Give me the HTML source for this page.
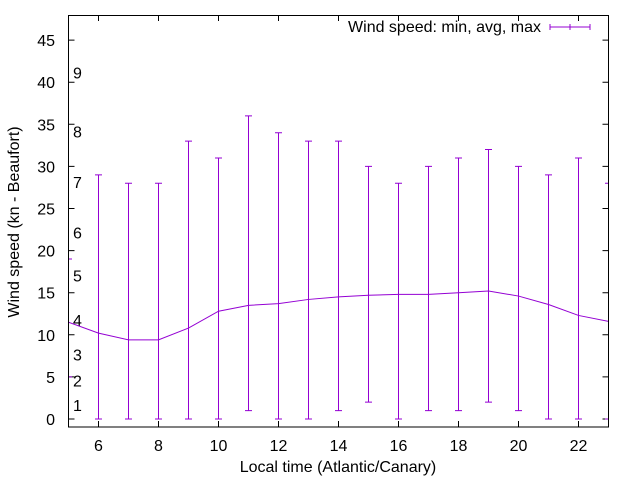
<!DOCTYPE html>
<html><head><meta charset="utf-8"><style>
body{margin:0;background:#fff}
svg{display:block;font-family:"Liberation Sans",sans-serif}
</style></head><body>
<svg width="640" height="480" viewBox="0 0 640 480">
<defs><clipPath id="pc"><rect x="68.5" y="15" width="540" height="412"/></clipPath></defs>
<g id="axes"></g>
<g id="marks" clip-path="url(#pc)"></g>
<rect x="68.5" y="15.5" width="540" height="411.5" fill="none" stroke="#000" stroke-width="1"/>
<text x="338" y="472" font-size="16" text-anchor="middle">Local time (Atlantic/Canary)</text>
<text transform="translate(19,222) rotate(-90)" font-size="16" text-anchor="middle">Wind speed (kn - Beaufort)</text>
<g>
<text x="541" y="32" font-size="16" text-anchor="end">Wind speed: min, avg, max</text>
<path d="M550 27H590M550 24V30M590 24V30M570 24V30" stroke="#9400d3" fill="none"/>
</g>
</svg>
<script>
const hours=[5,6,7,8,9,10,11,12,13,14,15,16,17,18,19,20,21,22,23];
const avgVals=[11.5,10.2,9.4,9.4,10.8,12.8,13.5,13.7,14.2,14.5,14.7,14.8,14.8,15.0,15.2,14.6,13.6,12.3,11.6];
const minVals=[5,0,0,0,0,0,1,0,0,1,2,0,1,1,2,1,0,0,0];
const maxVals=[19,29,28,28,33,31,36,34,33,33,30,28,30,31,32,30,29,31,28];
const xTicks=[6,8,10,12,14,16,18,20,22];
const yTicks=[0,5,10,15,20,25,30,35,40,45];
const beaufortLabels=["1","2","3","4","5","6","7","8","9"];
const beaufortPos=[1.3,4.2,7.3,11.4,16.7,21.8,27.8,33.8,40.8];
const X=v=>68.5+(v-5)*30;
const Y=v=>419-v*8.42;
const NS="http://www.w3.org/2000/svg";
const axes=document.getElementById('axes'),marks=document.getElementById('marks');
function mk(tag,attrs,parent,txt){const e=document.createElementNS(NS,tag);for(const k in attrs)e.setAttribute(k,attrs[k]);if(txt!==undefined)e.textContent=txt;parent.appendChild(e);return e;}
xTicks.forEach(t=>{
 const l=mk('path',{d:`M${X(t)} 427V421M${X(t)} 15V21`,stroke:'#000'},axes);
 
 
 const tx=mk('text',{x:X(t),y:451,'font-size':16,'text-anchor':'middle'},axes,String(t));
 
 
});
yTicks.forEach(t=>{
 const l=mk('path',{d:`M68.5 ${Y(t)}H74.5M608.5 ${Y(t)}H602.5`,stroke:'#000'},axes);
 
 
 const tx=mk('text',{x:55,y:Y(t)+6,'font-size':16,'text-anchor':'end'},axes,String(t));
 
 
});
beaufortLabels.forEach((b,i)=>{
 const tx=mk('text',{x:73,y:Y(beaufortPos[i])+3,'font-size':16},axes,b);
 
 
});
hours.forEach((h,i)=>{
 const x=X(h),y1=Y(minVals[i]),y2=Y(maxVals[i]);
 const p=mk('path',{d:`M${x} ${y1}V${y2}M${x-3.5} ${y1}H${x+3.5}M${x-3.5} ${y2}H${x+3.5}`,stroke:'#9400d3',fill:'none'},marks);
 
 
});
const pl=mk('polyline',{points:hours.map((h,i)=>X(h)+','+Y(avgVals[i])).join(' '),stroke:'#9400d3',fill:'none'},marks);


</script>
</body></html>
